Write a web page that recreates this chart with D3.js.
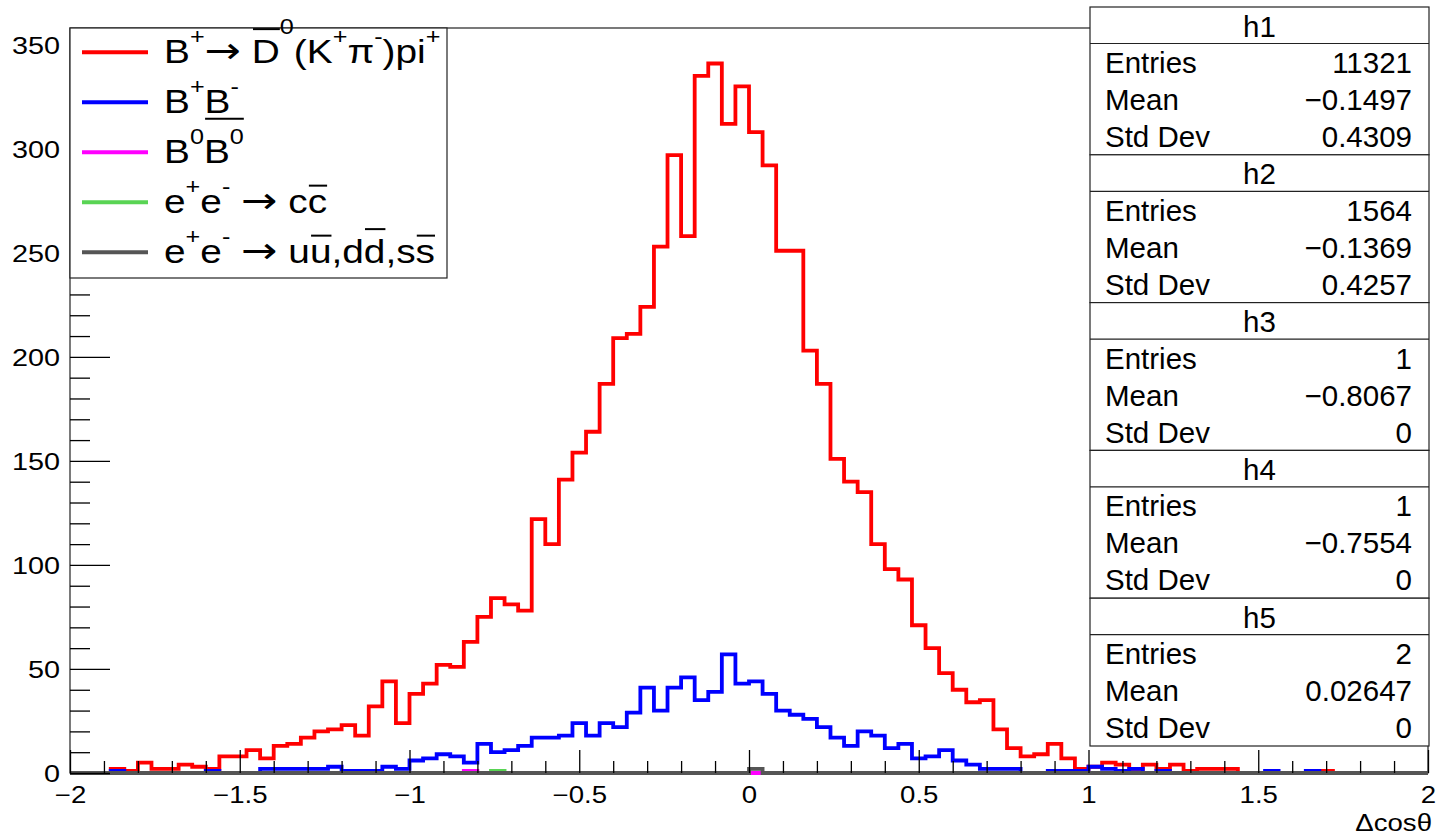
<!DOCTYPE html>
<html><head><meta charset="utf-8">
<script src="https://cdn.jsdelivr.net/npm/d3@7"></script>
<style>
body{margin:0;background:#fff}
svg{display:block}
text{font-family:"Liberation Sans",Arial,Helvetica,sans-serif;fill:#000}
</style>
</head><body>
<svg id="c" width="1436" height="836"></svg>
<script>
// ---------------- data ----------------
const xMin = -2, xMax = 2, nBins = 100;
const xTickValues = [-2, -1.5, -1, -0.5, 0, 0.5, 1, 1.5, 2];
const yTickValues = [0, 50, 100, 150, 200, 250, 300, 350];
const xTitle = "\u0394cos\u03b8";

// h1: B+ -> D0bar(K+pi-)pi+
const h1 = [
  0,0,0,2,1,5,2,2,4,3,
  2,8,8,11,7,13,14,17,20,21,
  23,18,32,44,24,38,43,52,51,63,
  75,84,81,78,122,110,141,154,164,187,
  209,211,224,253,297,258,335,341,312,330,
  308,292,251,251,203,187,151,140,135,110,
  98,93,71,60,48,40,34,35,21,12,
  8,9,14,7,2,3,5,4,2,4,
  2,4,1,2,2,2,0,0,0,0,
  0,0,1,0,0,0,0,0,0,0];
// h2: B+B-
const h2 = [
  0,0,0,1,0,0,0,0,0,0,
  1,0,0,0,2,2,2,2,2,3,
  1,1,1,3,2,6,7,9,8,5,
  14,10,11,13,17,17,18,24,18,24,
  22,29,41,30,41,46,35,39,57,43,
  44,38,30,28,26,22,17,13,20,18,
  12,14,7,8,11,6,4,2,2,2,
  0,0,1,1,1,3,2,1,2,0,
  1,0,0,0,0,0,0,0,1,0,
  0,1,0,0,0,0,0,0,0,0];
// h3: B0 B0bar (one entry), h4: e+e- -> ccbar (one entry), h5: uds (two entries)
const h3 = Array(100).fill(0); h3[29] = 1;
const h4 = Array(100).fill(0); h4[31] = 1;
const h5 = Array(100).fill(0); h5[50] = 2;

const histNames = ["h1", "h2", "h3", "h4", "h5"];
const histColors = ["#ff0000", "#0000ff", "#ff00ff", "#59d454", "#555555"];
const legendLabels = [
  "B^{+}#rightarrow #bar{D}^{0}(K^{+}#pi^{-})pi^{+}",
  "B^{+}B^{-}",
  "B^{0}#bar{B^{0}}",
  "e^{+}e^{-} #rightarrow c#bar{c}",
  "e^{+}e^{-} #rightarrow u#bar{u},d#bar{d},s#bar{s}"
];
const statRowLabels = ["Entries", "Mean", "Std Dev"];
const statEntries = ["11321", "1564", "1", "1", "2"];
const statMean = ["\u22120.1497", "\u22120.1369", "\u22120.8067", "\u22120.7554", "0.02647"];
const statStd = ["0.4309", "0.4257", "0", "0", "0"];

// ---------------- chart ----------------
const svg = d3.select("#c");
const hists = [h1, h2, h3, h4, h5];
const X0 = 70, X1 = 1428, Y0 = 773, Y1 = 28;
const x = d3.scaleLinear().domain([xMin, xMax]).range([X0, X1]);
const y = d3.scaleLinear().domain([0, d3.max(h1) * 1.05]).range([Y0, Y1]);
const binW = (xMax - xMin) / nBins;
const edges = d3.range(nBins + 1).map(i => xMin + i * binW);

// frame
const frame = svg.append("g").attr("stroke", "#222").attr("stroke-width", 1.2).attr("fill", "none");
frame.append("rect").attr("x", X0).attr("y", Y1).attr("width", X1 - X0).attr("height", Y0 - Y1);

// histograms (draw order: h1, h2, h4, h3, h5)
const line = d3.line().x(d => x(d[0])).y(d => y(d[1])).curve(d3.curveStepAfter);
[0, 1, 3, 2, 4].forEach(k => {
  const h = hists[k];
  const pts = h.map((v, i) => [edges[i], v]);
  pts.push([edges[nBins], h[nBins - 1]]);
  svg.append("path").attr("d", line(pts))
    .attr("fill", "none").attr("stroke", histColors[k]).attr("stroke-width", 3.8)
    .attr("stroke-linejoin", "miter").attr("stroke-linecap", "butt");
});

// axes
const fmt = d => d < 0 ? "\u2212" + Math.abs(d) : String(d);
const xMinor = d3.range(Math.round(xMin * 10), Math.round(xMax * 10) + 1).map(i => i / 10)
  .filter(v => !xTickValues.some(t => Math.abs(t - v) < 1e-9));
const yMinor = d3.range(0, d3.max(yTickValues) + 1, 10).filter(v => !yTickValues.includes(v));

function styleAxis(g) {
  g.select(".domain").remove();
  g.selectAll("line").attr("stroke", "#000").attr("stroke-width", 1.3);
}
const gxm = svg.append("g").attr("transform", `translate(0,${Y0})`)
  .call(d3.axisBottom(x).tickValues(xMinor).tickSize(-12).tickFormat(""));
styleAxis(gxm);
const gx = svg.append("g").attr("transform", `translate(0,${Y0})`)
  .call(d3.axisBottom(x).tickValues(xTickValues).tickSize(-23).tickFormat(fmt));
styleAxis(gx);
gx.selectAll("text").attr("y", 0).attr("dy", 0)
  .attr("transform", "translate(0,30) scale(1.2,1)")
  .style("font-size", "23px").style("fill", "#000");

const gym = svg.append("g").attr("transform", `translate(${X0},0)`)
  .call(d3.axisLeft(y).tickValues(yMinor).tickSize(-20).tickFormat(""));
styleAxis(gym);
const gy = svg.append("g").attr("transform", `translate(${X0},0)`)
  .call(d3.axisLeft(y).tickValues(yTickValues).tickSize(-40).tickFormat(fmt));
styleAxis(gy);
gy.selectAll("text").attr("x", 0).attr("dy", "0.36em")
  .attr("transform", "translate(-10,0) scale(1.2,1)")
  .style("font-size", "24px").style("fill", "#000");

svg.append("text").attr("transform", "translate(1432,831) scale(1.2,1)")
  .attr("text-anchor", "end").style("font-size", "23px").text(xTitle);

// ---------------- legend ----------------
let barCounter = 0;
function parseTex(s, sup = false, bar = null, out = []) {
  let i = 0, buf = "";
  const flush = () => { if (buf) { out.push({ text: buf, sup, bar }); buf = ""; } };
  const readGroup = start => {
    let depth = 0, j = start;
    for (; j < s.length; j++) {
      if (s[j] === "{") depth++;
      else if (s[j] === "}") { depth--; if (depth === 0) break; }
    }
    return [s.slice(start + 1, j), j + 1];
  };
  while (i < s.length) {
    if (s.startsWith("^{", i)) { flush(); const [g, n] = readGroup(i + 1); parseTex(g, true, bar, out); i = n; }
    else if (s.startsWith("#bar{", i)) { flush(); const [g, n] = readGroup(i + 4); const id = barCounter++; parseTex(g, sup, id, out); i = n; }
    else if (s.startsWith("#rightarrow", i)) { flush(); out.push({ text: "\u2192", sup, bar, arrow: true }); i += 11; }
    else if (s.startsWith("#pi", i)) { buf += "\u03c0"; i += 3; }
    else { buf += s[i]; i++; }
  }
  flush();
  return out;
}
const lowSet = "acemnorsuvwxz\u03c0";
function drawTex(g, s, fs) {
  const toks = parseTex(s);
  let cx = 0, prevBar = null;
  const groups = {};
  toks.forEach(t => {
    let size = t.sup ? fs * 0.65 : fs;
    if (t.arrow) size = fs * 1.12;
    let raise = 0;
    if (t.sup) {
      if (prevBar !== null && t.bar !== prevBar) raise = groups[prevBar].top + 0.15 * fs;
      else raise = 0.57 * fs;
    }
    const el = g.append("text").attr("x", cx).attr("y", -raise)
      .style("font-size", size + "px").text(t.text.replace(/ /g, "\u00a0"));
    if (t.arrow) el.style("font-family", "'DejaVu Sans', sans-serif");
    const w = el.node().getComputedTextLength();
    if (t.bar !== null) {
      const isLow = [...t.text].every(c => lowSet.includes(c));
      const top = raise + size * (isLow ? 0.53 : 0.73);
      const gr = groups[t.bar] || (groups[t.bar] = { x0: cx, x1: cx, top: 0 });
      gr.x1 = cx + w; gr.top = Math.max(gr.top, top);
    }
    prevBar = t.bar;
    cx += w;
  });
  Object.values(groups).forEach(gr => {
    g.append("line").attr("x1", gr.x0 + 1).attr("x2", gr.x1)
      .attr("y1", -(gr.top + 0.3 * fs)).attr("y2", -(gr.top + 0.3 * fs))
      .attr("stroke", "#000").attr("stroke-width", 2);
  });
}
const leg = svg.append("g");
leg.append("rect").attr("x", X0).attr("y", Y1).attr("width", 377).attr("height", 250)
  .attr("fill", "#fff").attr("stroke", "#222").attr("stroke-width", 1.2);
legendLabels.forEach((lab, i) => {
  const base = 62.7 + 50 * i;
  leg.append("line").attr("x1", 82).attr("x2", 148).attr("y1", base - 10.5).attr("y2", base - 10.5)
    .attr("stroke", histColors[i]).attr("stroke-width", 4);
  const g = leg.append("g").attr("transform", `translate(164,${base}) scale(1.19,1)`);
  drawTex(g, lab, 32.6);
});

// ---------------- stats boxes ----------------
const SX0 = 1090, SX1 = 1429, STop = 7, SH = 147.8, SHead = 36.5;
const st = svg.append("g");
histNames.forEach((nm, i) => {
  const top = STop + SH * i;
  st.append("rect").attr("x", SX0).attr("y", top).attr("width", SX1 - SX0).attr("height", SH)
    .attr("fill", "#fff").attr("stroke", "#222").attr("stroke-width", 1.2);
  st.append("line").attr("x1", SX0).attr("x2", SX1).attr("y1", top + SHead).attr("y2", top + SHead)
    .attr("stroke", "#222").attr("stroke-width", 1.2);
  st.append("text").attr("x", (SX0 + SX1) / 2).attr("y", top + 29.5).attr("text-anchor", "middle")
    .style("font-size", "29.5px").text(nm);
  const vals = [statEntries[i], statMean[i], statStd[i]];
  statRowLabels.forEach((rl, r) => {
    const by = top + 66 + 37 * r;
    st.append("text").attr("x", 1105).attr("y", by).style("font-size", "29.5px").text(rl);
    st.append("text").attr("x", 1412).attr("y", by).attr("text-anchor", "end")
      .style("font-size", "29.5px").text(vals[r]);
  });
});
</script>
</body></html>
